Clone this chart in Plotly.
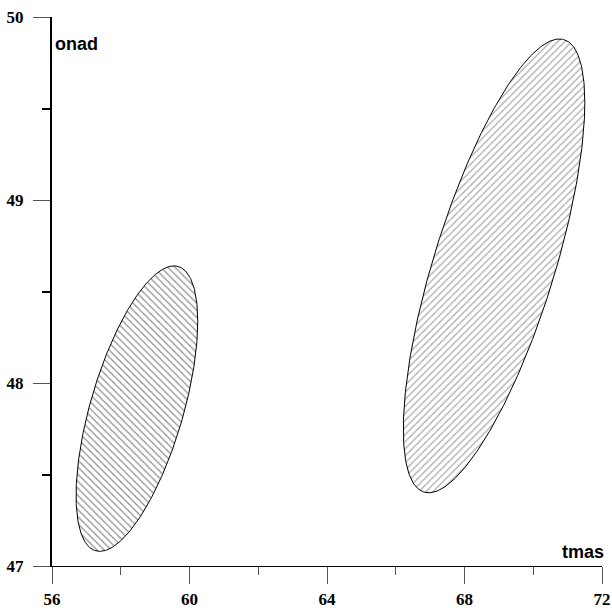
import numpy as np
import plotly.graph_objects as go

# Ellipse parameters (data units)
names = ["left", "right"]
centers_x = [58.47, 68.86]
centers_y = [47.86, 48.64]
half_x = [1.77, 2.64]
half_y = [0.78, 1.24]
corr = [0.61, 0.72]           # cos of phase lag between x and y
patterns = ["\\", "/"]
pattern_colors = ["#222222", "#555555"]

x_ticks = [56, 60, 64, 68, 72]
y_ticks = [47, 48, 49, 50]
x_minor = [58, 62, 66, 70]
y_minor = [47.5, 48.5, 49.5]

fig = go.Figure()
t = np.linspace(0, 2 * np.pi, 361)
for i in range(len(names)):
    phi = np.arccos(corr[i])
    ex = centers_x[i] + half_x[i] * np.cos(t)
    ey = centers_y[i] + half_y[i] * np.cos(t - phi)
    fig.add_trace(go.Scatter(
        x=ex, y=ey, mode="lines", fill="toself",
        line=dict(color="black", width=1),
        fillcolor="white",
        fillpattern=dict(shape=patterns[i], size=5, solidity=0.25,
                         fgcolor=pattern_colors[i], bgcolor="white"),
        showlegend=False, hoverinfo="skip", name=names[i]))

tickfont = dict(family="Liberation Serif", size=17, color="black", weight="bold")
fig.update_xaxes(range=[56, 72], tickvals=x_ticks, ticktext=[str(v) for v in x_ticks],
                 showgrid=False, zeroline=False, showline=True, linecolor="black",
                 linewidth=1, ticks="outside", ticklen=17, tickwidth=1, tickcolor="#555",
                 minor=dict(tickvals=x_minor, ticks="outside", ticklen=8,
                            tickwidth=1, tickcolor="#555"),
                 tickfont=tickfont, ticklabelstandoff=1, automargin=False)
fig.update_yaxes(range=[47, 50], tickvals=y_ticks, ticktext=[str(v) for v in y_ticks],
                 showgrid=False, zeroline=False, showline=True, linecolor="black",
                 linewidth=2, ticks="outside", ticklen=17, tickwidth=1, tickcolor="#555",
                 minor=dict(tickvals=y_minor, ticks="outside", ticklen=8,
                            tickwidth=2, tickcolor="black"),
                 tickfont=tickfont, ticklabelstandoff=6, automargin=False)

fig.add_annotation(text="<b>onad</b>", xref="paper", yref="paper", x=0, y=0.951,
                   xanchor="left", yanchor="middle", showarrow=False, xshift=1,
                   font=dict(family="Liberation Sans", size=18, color="black"))
fig.add_annotation(text="<b>tmas</b>", xref="paper", yref="paper", x=1, y=0.026,
                   xanchor="right", yanchor="middle", showarrow=False, xshift=4,
                   font=dict(family="Liberation Sans", size=18, color="black"))

fig.update_layout(width=612, height=612, margin=dict(l=52, r=10, t=17, b=46),
                  plot_bgcolor="white", paper_bgcolor="white")
fig.write_html("out.html")
